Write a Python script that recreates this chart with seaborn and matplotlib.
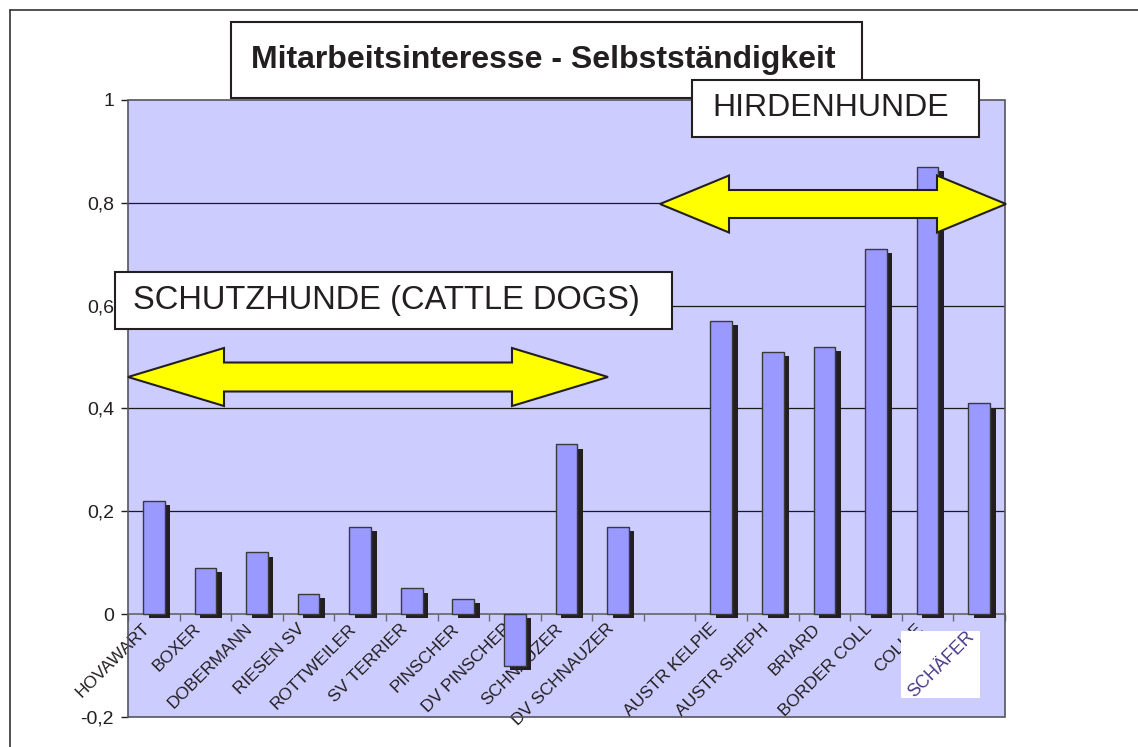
import numpy as np
import pandas as pd
import matplotlib
matplotlib.use("Agg")
import matplotlib.pyplot as plt
import matplotlib.patheffects as pe
import matplotlib.transforms as mtransforms
from matplotlib.patches import Rectangle, Polygon
from matplotlib.lines import Line2D
import seaborn as sns

# Data
breeds = ["HOVAWART", "BOXER", "DOBERMANN", "RIESEN SV", "ROTTWEILER", "SV TERRIER",
          "PINSCHER", "DV PINSCHER", "SCHNAUZER", "DV SCHNAUZER", " ",
          "AUSTR KELPIE", "AUSTR SHEPH", "BRIARD", "BORDER COLL", "COLLIE", "SCHÄFER"]
scores = [0.22, 0.09, 0.12, 0.04, 0.17, 0.05, 0.03, -0.10, 0.33, 0.17, np.nan,
          0.57, 0.51, 0.52, 0.71, 0.87, 0.41]
ytick_vals = [-0.2, 0, 0.2, 0.4, 0.6, 0.8, 1.0]
ytick_labels = ["-0,2", "0", "0,2", "0,4", "0,6", "0,8", "1"]

df = pd.DataFrame({"breed": breeds, "score": scores}).dropna()

sns.set_theme(style="white")
plt.rcParams["font.family"] = ["Liberation Sans", "DejaVu Sans"]

W, H = 1138, 747
fig = plt.figure(figsize=(W / 100, H / 100), dpi=100)
fig.patch.set_facecolor("white")

# plot area in pixels
left, right, top, bottom = 128, 1005, 100, 717
ax = fig.add_axes([left / W, 1 - bottom / H, (right - left) / W, (bottom - top) / H])
ax.set_facecolor("#CCCCFF")

sns.barplot(data=df, x="breed", y="score", order=breeds, color="#9999FF",
            saturation=1, width=0.42, edgecolor="#3a3a3a", linewidth=1,
            errorbar=None, ax=ax, zorder=3)
for bar in ax.patches:
    bar.set_path_effects([pe.SimplePatchShadow(offset=(4, -3), shadow_rgbFace="#231F20", alpha=1),
                          pe.Normal()])

ax.set_ylim(-0.2, 1.0)
ax.set_xlim(-0.5, len(breeds) - 0.5)
ax.set_yticks(ytick_vals, ytick_labels, fontsize=14, color="#231F20")
ax.tick_params(axis="y", direction="out", length=5, width=1, color="#231F20", pad=5, left=True)
for y in ytick_vals[2:-1]:
    ax.axhline(y, color="#1a1a1a", linewidth=0.9, zorder=1)

# x axis sits on zero, labels rotated like the original
ax.spines["bottom"].set_position(("data", 0))
ax.spines["bottom"].set_color("#6a6a70")
ax.spines["bottom"].set_zorder(2)
ax.set_xticks(range(len(breeds)), breeds, rotation=45, ha="right",
              rotation_mode="anchor", fontsize=12.5, color="#231F20")
ax.set_xticks(np.arange(-0.5, len(breeds)), minor=True)
ax.tick_params(axis="x", which="major", length=0, pad=8)
ax.tick_params(axis="x", which="minor", direction="out", length=5, width=1,
               color="#6a6a70", bottom=True)
shift = mtransforms.ScaledTranslation(-0.12, 0.045, fig.dpi_scale_trans)
for lab in ax.get_xticklabels():
    lab.set_transform(lab.get_transform() + shift)
ax.get_xticklabels()[-1].set_visible(False)
ax.xaxis.set_zorder(0.5)
for s in ["left", "top", "right"]:
    ax.spines[s].set_visible(False)
ax.add_patch(Rectangle((0, 0), 1, 1, transform=ax.transAxes, fill=False,
                       edgecolor="#55555c", linewidth=1.2, zorder=6, clip_on=False))
ax.set_xlabel("")
ax.set_ylabel("")


def px(x, y):
    return (x / W, 1 - y / H)


def double_arrow(x0, x1, yc, head_len, head_h, shaft_h):
    pts = [(x0, yc), (x0 + head_len, yc - head_h), (x0 + head_len, yc - shaft_h),
           (x1 - head_len, yc - shaft_h), (x1 - head_len, yc - head_h), (x1, yc),
           (x1 - head_len, yc + head_h), (x1 - head_len, yc + shaft_h),
           (x0 + head_len, yc + shaft_h), (x0 + head_len, yc + head_h)]
    fig.patches.append(Polygon([px(a, b) for a, b in pts], closed=True,
                               transform=fig.transFigure, facecolor="#FFFF00",
                               edgecolor="#231F20", linewidth=1.5, zorder=3))


def text_box(x0, y0, x1, y1, label, size, weight="normal", dx=0):
    fig.patches.append(Rectangle(px(x0, y1), (x1 - x0) / W, (y1 - y0) / H,
                                 transform=fig.transFigure, facecolor="white",
                                 edgecolor="#231F20", linewidth=1.5, zorder=4))
    cx, cy = px((x0 + x1) / 2 + dx, (y0 + y1) / 2)
    fig.text(cx, cy, label, ha="center", va="center", fontsize=size,
             fontweight=weight, color="#231F20", zorder=5)


# outer chart frame
fig.lines.append(Line2D([10 / W, 1], [1 - 10 / H, 1 - 10 / H], transform=fig.transFigure,
                        color="#333333", linewidth=1.2))
fig.lines.append(Line2D([10 / W, 10 / W], [0, 1 - 10 / H], transform=fig.transFigure,
                        color="#333333", linewidth=1.2))

double_arrow(128, 608, 377, 96, 29, 14.5)
double_arrow(660, 1006, 204, 69, 28.5, 14)

text_box(231, 22, 862, 98, "Mitarbeitsinteresse - Selbstständigkeit", 23, "bold", dx=-3)
text_box(692, 80, 979, 137, "HIRDENHUNDE", 23, dx=-5)
text_box(115, 272, 672, 329, "SCHUTZHUNDE (CATTLE DOGS)", 23.5, dx=-7)

# pasted label image over the last category
fig.patches.append(Rectangle(px(901, 698), 79 / W, 67 / H, transform=fig.transFigure,
                             facecolor="white", edgecolor="none", zorder=4))
cx, cy = px(941, 664)
fig.text(cx, cy, "SCHÄFER", ha="center", va="center", rotation=45, fontsize=13,
         color="#4b3a8c", zorder=5)

fig.savefig("out.png", dpi=100)
